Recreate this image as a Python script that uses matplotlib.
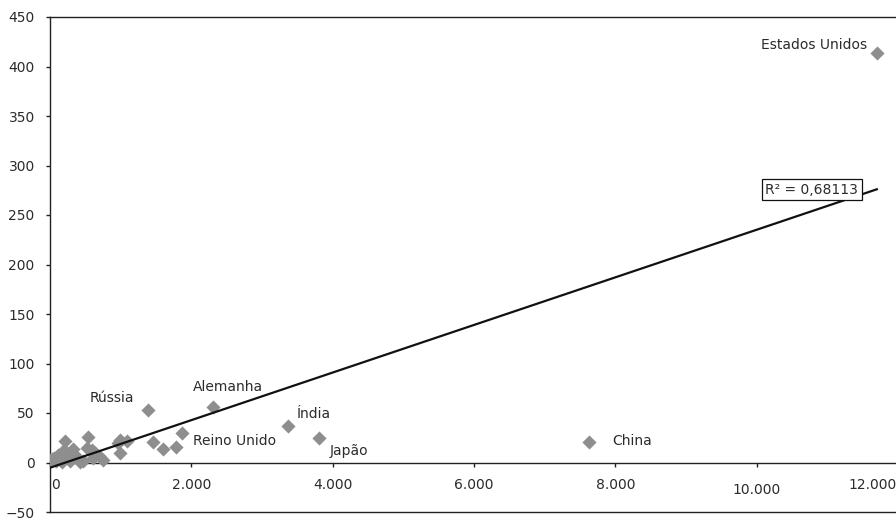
import matplotlib
matplotlib.use("Agg")
import matplotlib.pyplot as plt
import matplotlib.transforms as mtransforms
import numpy as np

plt.rcParams.update({
    "font.family": "DejaVu Sans",
    "font.size": 10,
})

TEXT = "#2b2b2b"
MARK = "#8e8e8e"

# ---------------------------------------------------------------- data
# labelled countries (x, y)
countries = ["Estados Unidos", "China", "Japão", "Índia", "Alemanha",
             "Rússia", "Reino Unido"]
country_x = [11700, 7634, 3807, 3364, 2312, 1392, 1873]
country_y = [414, 20.5, 24.5, 36.6, 56, 53, 30]

# unlabelled points
other_x = [1453, 1604, 1779, 991, 991, 1085, 967, 212, 542, 330, 590,
           755, 472, 24, 118, 165, 0, 60, 250, 300, 400, 640, 700, 520,
           180, 280, 350, 90, 140, 430, 610, 230]
other_y = [21, 14, 15.5, 10, 23, 21.5, 20, 21.5, 26, 14, 13,
           2.5, 1.3, 3.7, 8, 0.5, 3, 5, 9, 6, 4, 10, 7, 15,
           12, 2, 8, 2, 6, 1, 5, 11]

# label anchor points (text left edge unless noted)
label_x = [11564, 7955, 3963, 3496, 2024, 566, 2024]
label_y = [422, 21.5, 11.4, 49, 76.6, 65, 21.5]
label_ha = ["right", "left", "left", "left", "left", "left", "left"]

# linear trend
trend_a, trend_b = 0.02404, -5.3
trend_x = [0, 11700]
r2_text = "R² = 0,68113"
r2_pos = (10778, 275.7)

x_ticks = [0, 2000, 4000, 6000, 8000, 10000, 12000]
x_labels = ["0", "2.000", "4.000", "6.000", "8.000", "10.000", "12.000"]
y_ticks = [-50, 0, 50, 100, 150, 200, 250, 300, 350, 400, 450]

# ---------------------------------------------------------------- figure
fig = plt.figure(figsize=(8.96, 5.19), dpi=100)
W, H = 896, 519
ax = fig.add_axes([50 / W, (H - 512) / H, (898 - 50) / W, (512 - 17) / H])
ax.set_xlim(0, 12000)
ax.set_ylim(-50, 450)

ax.scatter(other_x, other_y, marker="D", s=52, color=MARK, lw=0, zorder=3)
ax.scatter(country_x, country_y, marker="D", s=52, color=MARK, lw=0,
           zorder=3)

tx = np.array(trend_x, dtype=float)
ax.plot(tx, trend_a * tx + trend_b, color="#111111", lw=1.6, zorder=4)

for name, x, y, ha in zip(countries, label_x, label_y, label_ha):
    ax.text(x, y, name, ha=ha, va="center", color=TEXT, fontsize=10,
            zorder=5)

ax.text(r2_pos[0], r2_pos[1], r2_text, ha="center", va="center",
        color=TEXT, fontsize=10, zorder=6,
        bbox=dict(boxstyle="square,pad=0.25", facecolor="white",
                  edgecolor="#111111", lw=0.9))

# axes styling
for side in ("right",):
    ax.spines[side].set_visible(False)
ax.spines["bottom"].set_position(("data", 0))
for side in ("left", "top", "bottom"):
    ax.spines[side].set_color("#222222")
    ax.spines[side].set_linewidth(1.0)
ax.axhline(-50, color="#222222", lw=1.0, clip_on=False, zorder=2)

ax.set_xticks(x_ticks)
ax.set_xticklabels(x_labels)
ax.set_yticks(y_ticks)
ax.tick_params(axis="x", direction="out", length=3, width=1.0, pad=8,
               colors="#222222", labelcolor=TEXT, labelsize=10)
ax.tick_params(axis="y", direction="out", length=3, width=1.0, pad=8,
               colors="#222222", labelcolor=TEXT, labelsize=10)

xl = ax.get_xticklabels()
xl[0].set_horizontalalignment("left")
xl[0].set_transform(xl[0].get_transform() +
                    mtransforms.ScaledTranslation(1 / 72, 0,
                                                  fig.dpi_scale_trans))
xl[5].set_transform(xl[5].get_transform() +
                    mtransforms.ScaledTranslation(0, -4 / 72,
                                                  fig.dpi_scale_trans))
xl[6].set_horizontalalignment("right")
xl[6].set_transform(xl[6].get_transform() +
                    mtransforms.ScaledTranslation(-1 / 72, 0,
                                                  fig.dpi_scale_trans))

fig.savefig("out.png", dpi=100)
